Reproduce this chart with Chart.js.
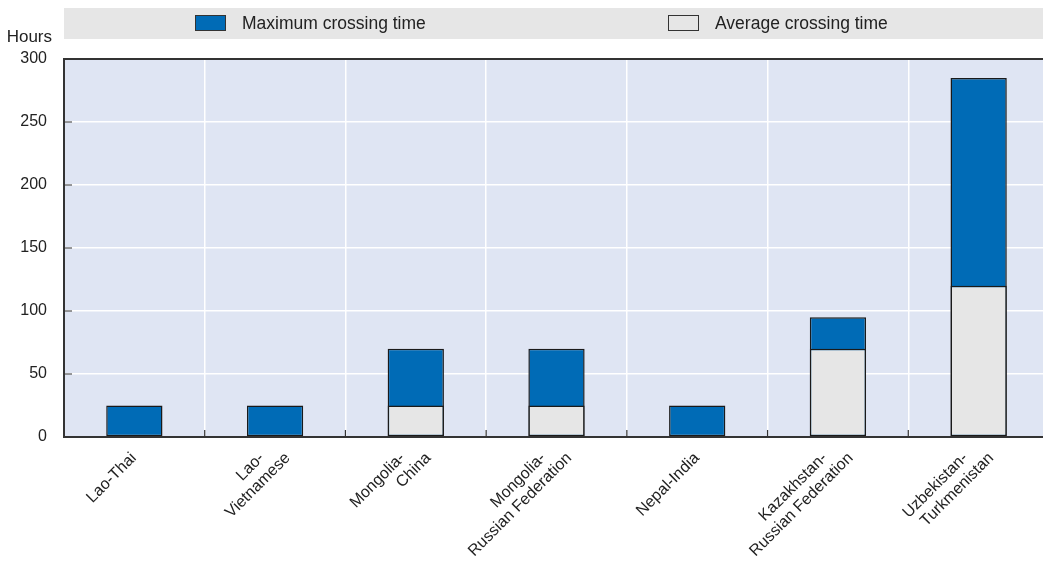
<!DOCTYPE html>
<html><head><meta charset="utf-8">
<script src="https://cdn.jsdelivr.net/npm/chart.js@4.4.1/dist/chart.umd.min.js"></script>
<style>html,body{margin:0;padding:0;background:#fff;overflow:hidden;}</style>
</head><body>
<canvas id="c" width="1049" height="562"></canvas>
<script>
const categories = [["Lao-Thai"],["Lao-","Vietnamese"],["Mongolia-","China"],["Mongolia-","Russian Federation"],["Nepal-India"],["Kazakhstan-","Russian Federation"],["Uzbekistan-","Turkmenistan"]];
const maximumHours = [25,25,70,70,25,95,285];
const averageHours = [null,null,25,25,null,70,120];
const yMin = 0, yMax = 300, yStep = 50;
const seriesNames = ["Maximum crossing time","Average crossing time"];
const yUnit = "Hours";

const BLUE = '#006BB6', GREY = '#E6E6E6', EDGE = '#1a1a1a', BG = '#DFE5F3', TXT = '#222';
const FONT = "'Liberation Sans', Arial, sans-serif";

const bgPlugin = {
  id: 'bg',
  beforeDraw(chart) {
    const {ctx, chartArea: a} = chart;
    ctx.save();
    ctx.fillStyle = BG;
    ctx.fillRect(a.left, a.top, a.right - a.left, a.bottom - a.top);
    ctx.restore();
  }
};

const framePlugin = {
  id: 'frame',
  afterDatasetsDraw(chart) {
    const {ctx, chartArea: a, scales} = chart;
    ctx.save();
    ctx.strokeStyle = '#333';
    ctx.lineWidth = 2;
    ctx.beginPath();
    ctx.moveTo(a.right + 2, a.top); ctx.lineTo(a.left, a.top);
    ctx.lineTo(a.left, a.bottom); ctx.lineTo(a.right + 2, a.bottom);
    ctx.stroke();
    ctx.lineWidth = 1.2;
    ctx.beginPath();
    scales.y.ticks.forEach(t => {
      if (t.value >= yMax || t.value <= yMin) return;
      const y = scales.y.getPixelForValue(t.value);
      ctx.moveTo(a.left, y); ctx.lineTo(a.left + 8, y);
    });
    const n = scales.x.ticks.length;
    for (let i = 0; i < n - 1; i++) {
      const x = (scales.x.getPixelForTick(i) + scales.x.getPixelForTick(i + 1)) / 2;
      ctx.moveTo(x, a.bottom); ctx.lineTo(x, a.bottom - 7);
    }
    ctx.stroke();
    ctx.restore();
  },
  afterDraw(chart) {
    const {ctx, chartArea: a, width, scales: {x}} = chart;
    ctx.save();
    // legend band
    ctx.fillStyle = '#E6E6E6';
    ctx.fillRect(a.left, 8, width - a.left, 31);
    const items = chart.data.datasets.map((d, i) => ({
      x: a.left + (i === 0 ? 131 : 604), fill: d.backgroundColor, text: d.label
    }));
    ctx.font = '17.5px ' + FONT;
    ctx.textBaseline = 'middle';
    items.forEach(it => {
      ctx.fillStyle = it.fill;
      ctx.fillRect(it.x, 15, 31, 16);
      ctx.strokeStyle = '#333';
      ctx.lineWidth = 1;
      ctx.strokeRect(it.x + 0.5, 15.5, 30, 15);
      ctx.fillStyle = TXT;
      ctx.textAlign = 'left';
      ctx.fillText(it.text, it.x + 47, 24);
    });
    // unit
    ctx.font = '17px ' + FONT;
    ctx.textAlign = 'right';
    ctx.fillText(yUnit, a.left - 12, 37);
    // category labels, rotated 45 degrees
    ctx.font = '16px ' + FONT;
    ctx.fillStyle = TXT;
    ctx.textAlign = 'right';
    ctx.textBaseline = 'top';
    chart.data.labels.forEach((lab, i) => {
      const lines = [].concat(lab);
      const cx = x.getPixelForTick(i);
      lines.forEach((ln, k) => {
        const ex = cx - 6 + (k - (lines.length - 1) / 2) * 26;
        ctx.save();
        ctx.translate(ex, a.bottom + 13);
        ctx.rotate(-Math.PI / 4);
        ctx.fillText(ln, 0, 0);
        ctx.restore();
      });
    });
    ctx.restore();
  }
};

new Chart(document.getElementById('c'), {
  type: 'bar',
  data: {
    labels: categories,
    datasets: [
      {label: seriesNames[0], data: maximumHours, backgroundColor: BLUE, borderColor: EDGE, borderWidth: 1.5, borderSkipped: false, grouped: false, order: 1},
      {label: seriesNames[1], data: averageHours, backgroundColor: GREY, borderColor: EDGE, borderWidth: 1.5, borderSkipped: false, grouped: false, order: 0}
    ]
  },
  options: {
    responsive: false,
    animation: false,
    devicePixelRatio: 1,
    layout: {padding: {top: 59, right: 0, left: 0, bottom: 0}},
    categoryPercentage: 1,
    barPercentage: 0.4,
    plugins: {legend: {display: false}, tooltip: {enabled: false}, title: {display: false}},
    scales: {
      x: {
        grid: {color: '#fff', lineWidth: 1.5, drawTicks: false, offset: true},
        border: {display: false},
        ticks: {display: false, autoSkip: false},
        afterFit(s) { s.height = 125; }
      },
      y: {
        min: yMin, max: yMax,
        grid: {color: '#fff', lineWidth: 1.5, drawTicks: false},
        border: {display: false},
        ticks: {stepSize: yStep, color: TXT, font: {family: FONT, size: 16}, padding: 17},
        afterFit(s) { s.width = 64; }
      }
    }
  },
  plugins: [bgPlugin, framePlugin]
});
</script>
</body></html>
